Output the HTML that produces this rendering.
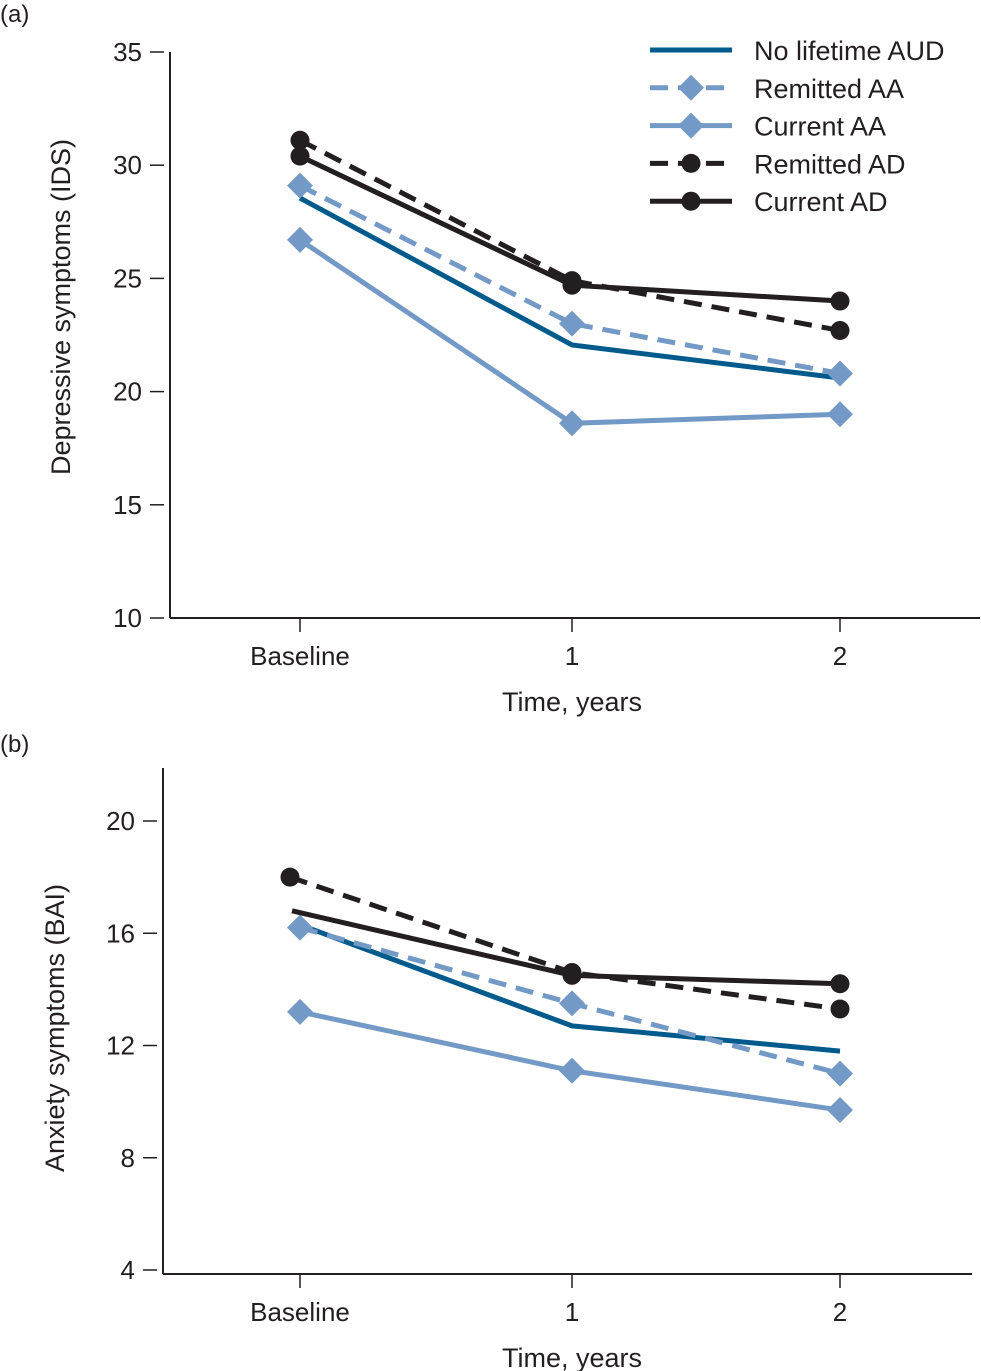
<!DOCTYPE html>
<html><head><meta charset="utf-8"><style>
html,body{margin:0;padding:0;background:#fff;}
svg{display:block;font-family:"Liberation Sans",sans-serif;}
text{fill:#231f20;}
</style></head><body>
<svg id="chart" width="981" height="1371" viewBox="0 0 981 1371" xmlns="http://www.w3.org/2000/svg"></svg>
<script>
const categories = ["Baseline","1","2"];
const seriesNames = ["No lifetime AUD","Remitted AA","Current AA","Remitted AD","Current AD"];
const depNoAUD = [28.55,22.06,20.6];
const depRemAA = [29.1,23.0,20.8];
const depCurAA = [26.7,18.6,19.0];
const depRemAD = [31.1,24.9,22.7];
const depCurAD = [30.4,24.7,24.0];
const anxNoAUD = [16.3,12.7,11.8];
const anxRemAA = [16.2,13.5,11.0];
const anxCurAA = [13.2,11.1,9.7];
const anxRemAD = [18.0,14.6,13.3];
const anxCurAD = [16.8,14.5,14.2];
const depTicks = [10,15,20,25,30,35];
const anxTicks = [4,8,12,16,20];

const NS="http://www.w3.org/2000/svg";
const svg=document.getElementById('chart');
function mk(tag,attrs,parent,name){const e=document.createElementNS(NS,tag);for(const k in attrs)e.setAttribute(k,attrs[k]);


(parent||svg).appendChild(e);return e;}
const DB="#005a8c", LB="#7399c6", BK="#231f20";
const styles=[{c:DB,dash:null,m:null},{c:LB,dash:"18,10",m:"d"},{c:LB,dash:null,m:"d"},{c:BK,dash:"18,10",m:"c"},{c:BK,dash:null,m:"c"}];
const xPos=[300,572,840];
function xScale(i){return xPos[i];}
function marker(g,s,x,y,name){
  if(s.m==="d") mk('polygon',{points:`${x},${y-13} ${x+13},${y} ${x},${y+13} ${x-13},${y}`,fill:s.c},g,name);
  else if(s.m==="c") mk('circle',{cx:x,cy:y,r:9.5,fill:s.c},g,name);
}
function panel(p){
  const g=mk('g',{},svg,p.name);
  const y=v=>p.y0+(v-p.vmin)/(p.vmax-p.vmin)*(p.y1-p.y0);
  mk('line',{x1:p.ax,y1:p.axTop,x2:p.ax,y2:p.axY,stroke:BK,'stroke-width':2},g,'y-axis');
  mk('line',{x1:p.ax,y1:p.axY,x2:p.axRight,y2:p.axY,stroke:BK,'stroke-width':2},g,'x-axis');
  p.ticks.forEach(t=>{
    mk('line',{x1:p.ax-20,y1:y(t),x2:p.ax-6,y2:y(t),stroke:BK,'stroke-width':1.5},g,'y-tick');
    const tx=mk('text',{x:p.ax-28,y:y(t)+9,'font-size':26,'text-anchor':'end'},g,'y-tick-label');tx.textContent=t;
  });
  categories.forEach((c,i)=>{
    mk('line',{x1:xScale(i),y1:p.axY,x2:xScale(i),y2:p.axY+14,stroke:BK,'stroke-width':1.5},g,'x-tick');
    const tx=mk('text',{x:xScale(i),y:p.axY+47,'font-size':26,'text-anchor':'middle'},g,'x-tick-label');tx.textContent=c;
  });
  const xt=mk('text',{x:572,y:p.axY+93,'font-size':27,'text-anchor':'middle'},g,'x-axis-title');xt.textContent="Time, years";
  const yt=mk('text',{x:0,y:0,'font-size':27,'text-anchor':'middle',transform:`translate(${p.ytx},${p.yty}) rotate(-90)`},g,'y-axis-title');yt.textContent=p.ytitle;
  const pl=mk('text',{x:0,y:p.labelY,'font-size':24},g,'panel-label');pl.textContent=p.label;
  p.series.forEach((d,si)=>{
    const s=styles[si];
    const xs=d.map((v,i)=>xScale(i)+((p.shift&&p.shift[si]&&i===0)?p.shift[si]:0));
    const pts=d.map((v,i)=>xs[i]+','+y(v)).join(' ');
    const a={points:pts,fill:'none',stroke:s.c,'stroke-width':5};
    if(s.dash)a['stroke-dasharray']=s.dash;
    mk('polyline',a,g,'line-'+seriesNames[si].toLowerCase().replace(/ /g,'-'));
    d.forEach((v,i)=>{ if(p.skip && p.skip[si]===i) return; marker(g,s,xs[i],y(v),'point'); });
  });
}
panel({name:'panel-a',label:'(a)',labelY:22,y0:618,y1:52,vmin:10,vmax:35,ax:170,axTop:52,axY:618,axRight:980,ticks:depTicks,
  ytitle:'Depressive symptoms (IDS)',ytx:70,yty:307,series:[depNoAUD,depRemAA,depCurAA,depRemAD,depCurAD]});
panel({name:'panel-b',label:'(b)',labelY:752,y0:1270,y1:821,vmin:4,vmax:20,ax:163,axTop:768,axY:1274,axRight:972,ticks:anxTicks,
  ytitle:'Anxiety symptoms (BAI)',ytx:64,yty:1028,series:[anxNoAUD,anxRemAA,anxCurAA,anxRemAD,anxCurAD],
  skip:{4:0},shift:{3:-10,4:-8}});
const lg=mk('g',{},svg,'legend');
seriesNames.forEach((n,i)=>{
  const s=styles[i], ly=50+i*37.8;
  const a={x1:650,y1:ly,x2:732,y2:ly,stroke:s.c,'stroke-width':5};
  if(s.dash)a['stroke-dasharray']=s.dash;
  mk('line',a,lg,'legend-line');
  marker(lg,s,691,ly,'legend-marker');
  const t=mk('text',{x:754,y:ly+10,'font-size':27},lg,'legend-entry');t.textContent=n;
});
</script>
</body></html>
